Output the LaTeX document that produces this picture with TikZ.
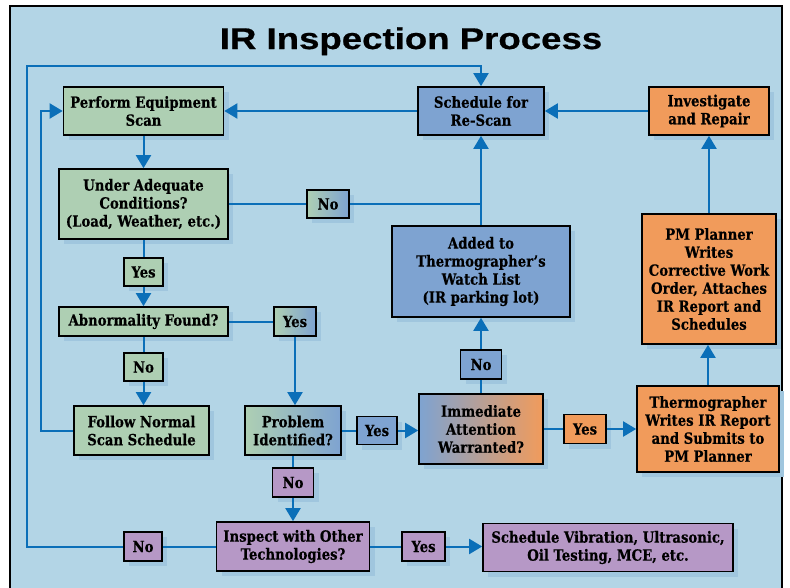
\documentclass[tikz,border=0pt]{standalone}
\usepackage{fontspec}
\setmainfont{DejaVu Serif}[FakeStretch=0.86,BoldFeatures={FakeBold=0.4}]
\newfontfamily\titlefont{Liberation Sans}[FakeStretch=1.22,BoldFeatures={FakeBold=0.6}]
\usetikzlibrary{arrows.meta,shadows}
\definecolor{bgc}{HTML}{B3D5E6}
\definecolor{shc}{HTML}{A0C6DE}
\definecolor{grc}{HTML}{AECFB3}
\definecolor{blc}{HTML}{7EA3D1}
\definecolor{orc}{HTML}{F19B5B}
\definecolor{puc}{HTML}{B698C6}
\definecolor{lnc}{HTML}{0B6FB8}
\begin{document}
\begin{tikzpicture}[x=1pt,y=-1pt,
  box/.style={draw=black,line width=1.6pt,align=center,inner sep=0pt,
    font=\bfseries\fontsize{15.4}{18}\selectfont,
    drop shadow={shadow xshift=5pt,shadow yshift=-5pt,fill=shc,opacity=1}},
  gbox/.style={box,fill=grc},
  bbox/.style={box,fill=blc},
  obox/.style={box,fill=orc},
  pbox/.style={box,fill=puc},
  gbbox/.style={box,left color=grc,right color=blc},
  bobox/.style={box,left color=blc,right color=orc},
  ln/.style={draw=lnc,line width=2pt},
  arr/.style={-{Triangle[width=15pt,length=13pt]}}]
\useasboundingbox (0,0) rectangle (790,587);
\fill[white] (0,0) rectangle (790,587);
\fill[bgc] (10,6) rectangle (782,595);
\draw[line width=1.5pt] (10,595) -- (10,6) -- (782,6) -- (782,595);

\node[font=\titlefont\bfseries\fontsize{30}{30}\selectfont,anchor=base] (title) at (411,49) {IR Inspection Process};

% nodes
\node[gbox,minimum width=160pt,minimum height=48pt] (perform) at (143.5,111) {Perform Equipment\\Scan};
\node[gbox,minimum width=169pt,minimum height=70pt] (under) at (143.5,204) {Under Adequate\\Conditions?\\(Load, Weather, etc.)};
\node[gbox,minimum width=39pt,minimum height=28pt] (yes1) at (143.5,272) {Yes};
\node[gbbox,minimum width=42pt,minimum height=28pt] (no1) at (328,204) {No};
\node[bbox,minimum width=126pt,minimum height=48pt] (resched) at (481,111) {Schedule for\\Re-Scan};
\node[obox,minimum width=120pt,minimum height=48pt] (invest) at (709,111) {Investigate\\and Repair};
\node[bbox,minimum width=178pt,minimum height=91pt] (watch) at (481,271.5) {Added to\\Thermographer’s\\Watch List\\(IR parking lot)};
\node[obox,minimum width=134pt,minimum height=130pt] (pm) at (709,279) {PM Planner\\Writes\\Corrective Work\\Order, Attaches\\IR Report and\\Schedules};
\node[gbox,minimum width=169pt,minimum height=29pt] (abn) at (143.5,321.5) {Abnormality Found?};
\node[gbbox,minimum width=42pt,minimum height=29pt] (yes2) at (295,321.5) {Yes};
\node[gbox,minimum width=39pt,minimum height=28pt] (no2) at (143.5,367) {No};
\node[gbox,minimum width=135pt,minimum height=49pt] (follow) at (141.5,430.5) {Follow Normal\\Scan Schedule};
\node[gbbox,minimum width=96pt,minimum height=49pt] (problem) at (293,430.5) {Problem\\Identified?};
\node[bbox,minimum width=40pt,minimum height=28pt] (yes3) at (377,430.5) {Yes};
\node[pbox,minimum width=41pt,minimum height=29pt] (no3) at (293,482.5) {No};
\node[pbox,minimum width=153pt,minimum height=49pt] (inspect) at (293,546.5) {Inspect with Other\\Technologies?};
\node[pbox,minimum width=38pt,minimum height=29pt] (no4) at (143,546.5) {No};
\node[bobox,minimum width=124pt,minimum height=70pt] (immediate) at (481,429) {Immediate\\Attention\\Warranted?};
\node[bbox,minimum width=41pt,minimum height=29pt] (no5) at (481,364.5) {No};
\node[obox,minimum width=42pt,minimum height=29pt] (yes4) at (585,429) {Yes};
\node[obox,minimum width=142pt,minimum height=86pt] (thermo) at (708,429) {Thermographer\\Writes IR Report\\and Submits to\\PM Planner};
\node[pbox,minimum width=43pt,minimum height=29pt] (yes5) at (423.5,546.5) {Yes};
\node[pbox,minimum width=250pt,minimum height=48pt] (vib) at (608,547.5) {Schedule Vibration, Ultrasonic,\\Oil Testing, MCE, etc.};

\coordinate (c1) at (27,66);
\coordinate (c2) at (27,546.5);
\coordinate (c3) at (41,430.5);

% connectors
\draw[ln,arr] (perform) -- (under);
\draw[ln] (under) -- (yes1);
\draw[ln,arr] (yes1) -- (abn);
\draw[ln] (abn) -- (no2);
\draw[ln,arr] (no2.south) -- (no2.south |- follow.north);
\draw[ln] (abn.east) -- (yes2.west);
\draw[ln,arr] (yes2.south) -- (yes2.south |- problem.north);
\draw[ln] (problem.east) -- (yes3.west);
\draw[ln,arr] (yes3.east) -- (yes3.east -| immediate.west);
\draw[ln] (problem.south) -- (no3.north);
\draw[ln,arr] (no3.south) -- (inspect.north);
\draw[ln] (inspect.west) -- (no4.east);
\draw[ln,arr] (no4.west) -- (c2) -- (c1) -- (c1 -| resched.north) -- (resched.north);
\draw[ln] (inspect.east) -- (yes5.west);
\draw[ln,arr] (yes5.east) -- (yes5.east -| vib.west);
\draw[ln] (immediate.north) -- (no5.south);
\draw[ln,arr] (no5.north) -- (watch.south);
\draw[ln] (immediate.east) -- (yes4.west);
\draw[ln,arr] (yes4.east) -- (yes4.east -| thermo.west);
\draw[ln,arr] (thermo.north) -- (thermo.north |- pm.south);
\draw[ln,arr] (pm.north) -- (invest.south);
\draw[ln,arr] (invest.west) -- (resched.east);
\draw[ln,arr] (resched.west) -- (perform.east);
\draw[ln] (under.east) -- (no1.west);
\draw[ln] (no1.east) -- (no1.east -| watch.north);
\draw[ln,arr] (watch.north) -- (resched.south);
\draw[ln,arr] (follow.west) -- (c3) |- (perform.west);
\end{tikzpicture}
\end{document}
